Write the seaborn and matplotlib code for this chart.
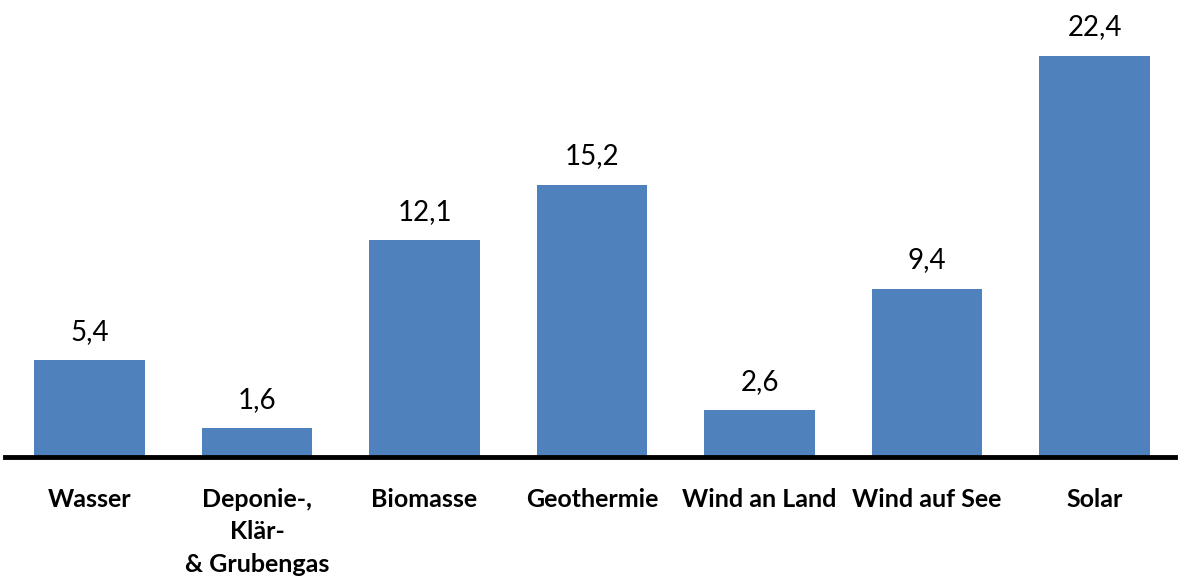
import matplotlib
matplotlib.use("Agg")
import matplotlib.pyplot as plt
import seaborn as sns
import pandas as pd

categories = ["Wasser", "Deponie-,\nKlär-\n& Grubengas", "Biomasse", "Geothermie",
              "Wind an Land", "Wind auf See", "Solar"]
values = [5.4, 1.6, 12.1, 15.2, 2.6, 9.4, 22.4]
value_labels = ["5,4", "1,6", "12,1", "15,2", "2,6", "9,4", "22,4"]

sns.set_theme(style="white")
plt.rcParams['font.family'] = ['Lato', 'DejaVu Sans']

df = pd.DataFrame({"cat": categories, "val": values})

fig = plt.figure(figsize=(11.79, 5.84), dpi=100)
ax = fig.add_axes([5/1179, 1 - 457/584, 1170/1179, 457/584])
sns.barplot(data=df, x="cat", y="val", color="#4F81BD", saturation=1, width=0.66, ax=ax)
for p in ax.patches:
    p.set_edgecolor("none")

ax.set_xlim(-0.5045, 6.48)
ax.set_ylim(0, 25.5)
ax.set_xlabel("")
ax.set_ylabel("")
ax.set_yticks([])
for s in ["top", "right", "left"]:
    ax.spines[s].set_visible(False)
ax.spines["bottom"].set_color("black")
ax.spines["bottom"].set_linewidth(3.5)
ax.tick_params(axis="x", length=0, pad=22)
ax.set_xticks(range(len(categories)))
ax.set_xticklabels(categories, fontsize=18, fontweight="bold", color="black",
                   va="top", linespacing=1.5)

for i, (v, t) in enumerate(zip(values, value_labels)):
    ax.annotate(t, (i, v), xytext=(0, 11), textcoords="offset points",
                ha="center", va="bottom", fontsize=20, color="black")

fig.savefig("out.png", dpi=100)
